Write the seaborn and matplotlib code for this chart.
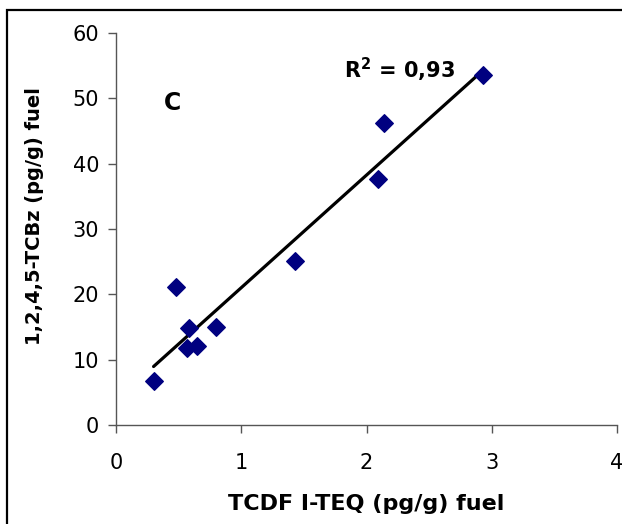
import numpy as np
import pandas as pd
import matplotlib
matplotlib.use("Agg")
import matplotlib.pyplot as plt
import seaborn as sns
from matplotlib.patches import Rectangle

# valores
tcdf_teq = [0.30, 0.48, 0.58, 0.57, 0.65, 0.80, 1.43, 2.09, 2.14, 2.93]
tcbz = [6.7, 21.1, 14.8, 11.8, 12.1, 15.0, 25.1, 37.7, 46.2, 53.6]
x_ticks = [0, 1, 2, 3, 4]
y_ticks = [0, 10, 20, 30, 40, 50, 60]

dados = pd.DataFrame({"x": tcdf_teq, "y": tcbz})

sns.set_style("white")
plt.rcParams["font.family"] = ["DejaVu Sans"]
plt.rcParams["text.color"] = "black"
plt.rcParams["axes.labelcolor"] = "black"
plt.rcParams["xtick.color"] = "black"
plt.rcParams["ytick.color"] = "black"

fig = plt.figure(figsize=(6.22, 5.24), dpi=100)
ax = fig.add_axes([0.1865, 0.189, 0.992 - 0.1865, 0.937 - 0.189])

sns.regplot(data=dados, x="x", y="y", ax=ax, ci=None, marker="D",
            scatter_kws={"s": 80, "color": "#000080", "edgecolor": "#000080",
                         "alpha": 1, "zorder": 3},
            line_kws={"color": "black", "linewidth": 2.3, "zorder": 2})

ax.set_xlim(0, 4)
ax.set_ylim(0, 60)
ax.set_xticks(x_ticks)
ax.set_yticks(y_ticks)
ax.tick_params(axis="both", direction="out", length=6, width=1, color="#555555",
               labelsize=15, pad=6, bottom=True, left=True)
ax.tick_params(axis="x", pad=14)
for lado in ["top", "right"]:
    ax.spines[lado].set_visible(False)
for lado in ["left", "bottom"]:
    ax.spines[lado].set_color("#555555")
    ax.spines[lado].set_linewidth(1)

ax.set_xlabel("TCDF I-TEQ (pg/g) fuel", fontsize=16, fontweight="bold", labelpad=15)
ax.set_ylabel("1,2,4,5-TCBz (pg/g) fuel", fontsize=14, fontweight="bold")
ax.yaxis.set_label_coords(-0.143, 0.533)

ax.text(0.45, 49.3, "C", fontsize=17, fontweight="bold", ha="center", va="center")
ax.text(2.26, 54.4, r"R$^{\mathbf{2}}$ = 0,93", fontsize=15, fontweight="bold",
        ha="center", va="center")

# moldura em volta do grafico
fig.patches.append(Rectangle((7 / 622, -0.2), 1.5, 1.2 - 10 / 524, transform=fig.transFigure,
                             fill=False, edgecolor="black", linewidth=1.6, clip_on=False))

fig.savefig("out.png", dpi=100)
